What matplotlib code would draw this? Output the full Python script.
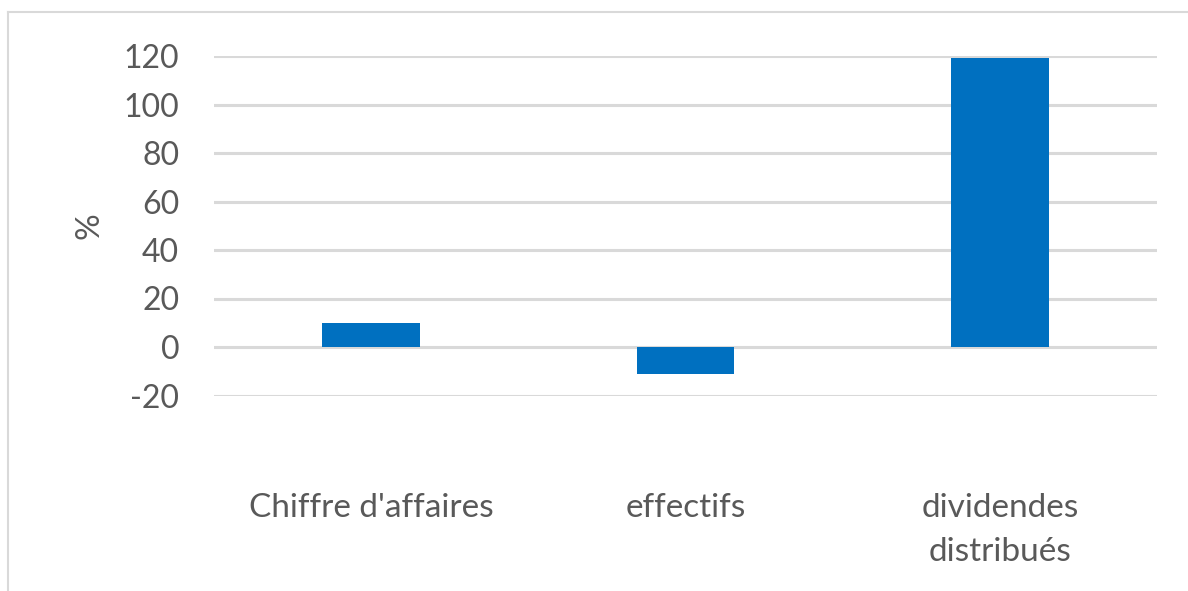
import matplotlib
matplotlib.use("Agg")
import matplotlib.pyplot as plt
from matplotlib.lines import Line2D

categories = ["Chiffre d'affaires", "effectifs", "dividendes\ndistribués"]
values = [10, -11, 119]
yticks = [-20, 0, 20, 40, 60, 80, 100, 120]

plt.rcParams['font.family'] = ['Lato', 'DejaVu Sans']
text_color = '#595959'

fig = plt.figure(figsize=(11.88, 5.91), dpi=100)
ax = fig.add_axes([214 / 1188, 1 - 395.5 / 591, (1157 - 214) / 1188, (395.5 - 56) / 591])

x = list(range(len(categories)))
ax.bar(x, values, width=0.31, color='#0070C0', linewidth=0, zorder=3)

ax.set_xlim(-0.5, len(categories) - 0.5)
ax.set_ylim(-20, 120)
ax.set_yticks(yticks)
ax.set_yticklabels([str(v) for v in yticks])
ax.set_xticks(x)
ax.set_xticklabels(categories, linespacing=1.6)

ax.grid(axis='y', color='#D9D9D9', linewidth=2.2, zorder=0)
ax.set_axisbelow(True)
for s in ax.spines.values():
    s.set_visible(False)

ax.tick_params(axis='y', length=0, pad=25, labelsize=23, labelcolor=text_color)
ax.tick_params(axis='x', length=0, pad=70, labelsize=24, labelcolor=text_color)

ax.set_ylabel('%', fontsize=24, color=text_color, labelpad=14)

# chart frame (top and left edges visible)
fig.add_artist(Line2D([8 / 1188, 8 / 1188], [0, 1 - 12 / 591], transform=fig.transFigure,
                      color='#D9D9D9', linewidth=1.5))
fig.add_artist(Line2D([8 / 1188, 1], [1 - 12 / 591, 1 - 12 / 591], transform=fig.transFigure,
                      color='#D9D9D9', linewidth=1.5))

fig.savefig('out.png', dpi=100)
